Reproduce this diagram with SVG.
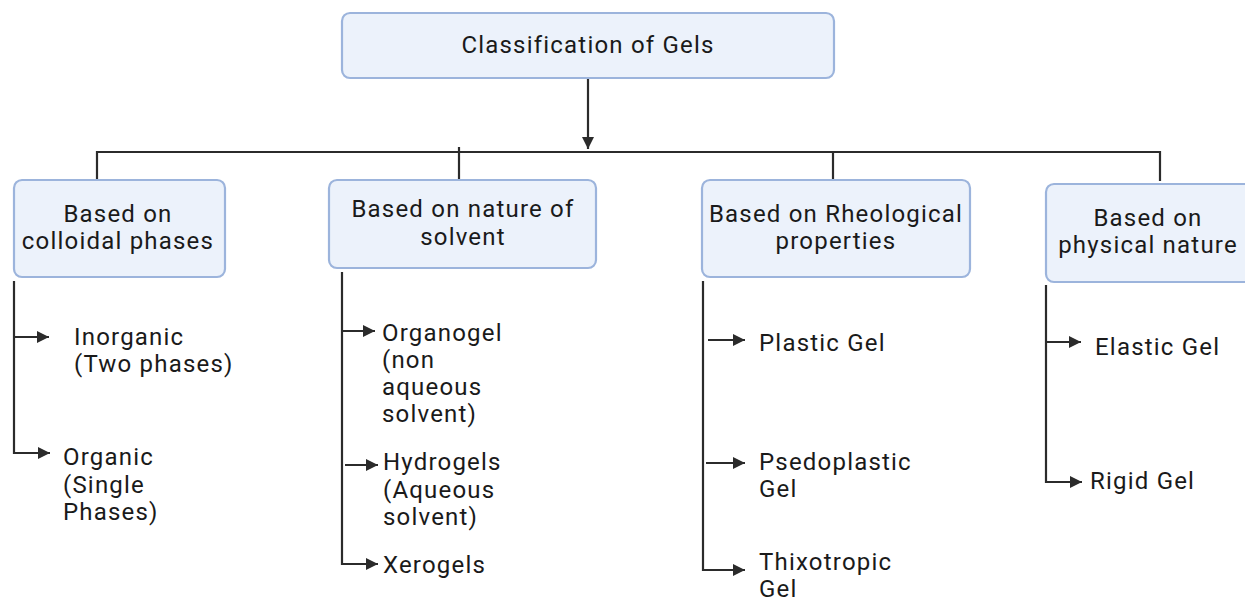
<svg xmlns="http://www.w3.org/2000/svg" width="1245" height="601" viewBox="0 0 1245 601">
<defs>
<style>
.box{fill:#ECF2FB;stroke:#9CB4DC;stroke-width:2.2}
.t{font-family:Roboto,"Liberation Sans",sans-serif;font-size:24px;letter-spacing:1.2px;fill:#1a1a1a}
.c{text-anchor:middle}
.ln{fill:none;stroke:#2b2b2b;stroke-width:2.2}
</style>
<marker id="ah" markerUnits="userSpaceOnUse" markerWidth="14" markerHeight="12" refX="12" refY="6" orient="auto">
<path d="M0,0 L12,6 L0,12 Z" fill="#2b2b2b"/>
</marker>
</defs>
<rect width="1245" height="601" fill="#ffffff"/>
<g id="connectors">
<line class="ln" x1="588" y1="78" x2="588" y2="149" marker-end="url(#ah)"/>
<polyline class="ln" points="97,181 97,152 1160,152 1160,181"/>
<line class="ln" x1="459" y1="147" x2="459" y2="181"/>
<line class="ln" x1="833" y1="152" x2="833" y2="181"/>
<polyline class="ln" points="14,281 14,453 50,453" marker-end="url(#ah)"/>
<line class="ln" x1="14" y1="337" x2="49" y2="337" marker-end="url(#ah)"/>
<polyline class="ln" points="342,272 342,564 378,564" marker-end="url(#ah)"/>
<line class="ln" x1="342" y1="331" x2="375" y2="331" marker-end="url(#ah)"/>
<line class="ln" x1="345" y1="465" x2="378" y2="465" marker-end="url(#ah)"/>
<polyline class="ln" points="703,281 703,570 745,570" marker-end="url(#ah)"/>
<line class="ln" x1="708" y1="340" x2="745" y2="340" marker-end="url(#ah)"/>
<line class="ln" x1="706" y1="463" x2="745" y2="463" marker-end="url(#ah)"/>
<polyline class="ln" points="1046,285 1046,482 1082,482" marker-end="url(#ah)"/>
<line class="ln" x1="1046" y1="342" x2="1081" y2="342" marker-end="url(#ah)"/>
</g>
<g id="root">
<rect class="box" x="342" y="13" width="492" height="65" rx="8"/>
<text class="t c" x="588" y="53">Classification of Gels</text>
</g>
<g id="colloidal">
<rect class="box" x="14" y="180" width="211" height="97" rx="8"/>
<text class="t c" x="118" y="222">Based on</text>
<text class="t c" x="118" y="249">colloidal phases</text>
</g>
<g id="solvent">
<rect class="box" x="329" y="180" width="267" height="88" rx="8"/>
<text class="t c" x="463" y="217">Based on nature of</text>
<text class="t c" x="463" y="245">solvent</text>
</g>
<g id="rheological">
<rect class="box" x="702" y="180" width="268" height="97" rx="8"/>
<text class="t c" x="836" y="222">Based on Rheological</text>
<text class="t c" x="836" y="249">properties</text>
</g>
<g id="physical">
<rect class="box" x="1046" y="184" width="210" height="98" rx="8"/>
<text class="t c" x="1148" y="226">Based on</text>
<text class="t c" x="1148" y="253">physical nature</text>
</g>
<g id="inorganic">
<text class="t" x="74" y="345">Inorganic</text>
<text class="t" x="74" y="372">(Two phases)</text>
</g>
<g id="organic">
<text class="t" x="63" y="465">Organic</text>
<text class="t" x="63" y="493">(Single</text>
<text class="t" x="63" y="520">Phases)</text>
</g>
<g id="organogel">
<text class="t" x="382" y="341">Organogel</text>
<text class="t" x="382" y="368">(non</text>
<text class="t" x="382" y="395">aqueous</text>
<text class="t" x="382" y="422">solvent)</text>
</g>
<g id="hydrogels">
<text class="t" x="383" y="470">Hydrogels</text>
<text class="t" x="383" y="498">(Aqueous</text>
<text class="t" x="383" y="525">solvent)</text>
</g>
<g id="xerogels">
<text class="t" x="383" y="573">Xerogels</text>
</g>
<g id="plastic">
<text class="t" x="759" y="351">Plastic Gel</text>
</g>
<g id="psedoplastic">
<text class="t" x="759" y="470">Psedoplastic</text>
<text class="t" x="759" y="497">Gel</text>
</g>
<g id="thixotropic">
<text class="t" x="759" y="570">Thixotropic</text>
<text class="t" x="759" y="597">Gel</text>
</g>
<g id="elastic">
<text class="t" x="1095" y="355">Elastic Gel</text>
</g>
<g id="rigid">
<text class="t" x="1090" y="489">Rigid Gel</text>
</g>
</svg>
